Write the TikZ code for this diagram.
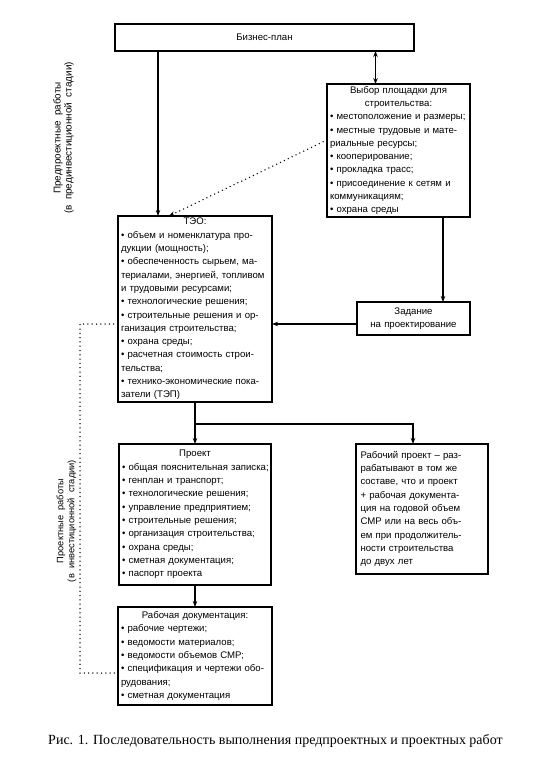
\documentclass[tikz,border=0pt]{standalone}
\usepackage{fontspec}
\setmainfont{Liberation Serif}
\newfontfamily\boxfont{Liberation Sans}
\usetikzlibrary{arrows.meta,calc}
\newcommand\Lln[1]{\hbox to\linewidth{#1\hss}\par}
\newcommand\Cln[1]{\hbox to\linewidth{\hss#1\hss}\par}
\begin{document}
\begin{tikzpicture}[x=1pt,y=-1pt,
  box/.style={draw, line width=1.1pt, anchor=north west, outer sep=0pt,
    inner xsep=3pt, inner ysep=0pt, align=left,
    font=\boxfont\fontsize{9.6}{13.3}\selectfont},
  arr/.style={line width=1.1pt, -{Stealth[length=6pt,width=4.5pt]}},
  darr/.style={line width=1.1pt, {Stealth[length=6pt,width=4.5pt]}-{Stealth[length=6pt,width=4.5pt]}},
  ln/.style={line width=1.1pt},
  dots/.style={line width=1.5pt, line cap=round, dash pattern=on 0pt off 4.3pt},
  dotarr/.style={dots, -{Stealth[length=6pt,width=4.5pt]}},
  side/.style={rotate=90, align=center, font=\boxfont\fontsize{9.3}{11}\selectfont}]
\useasboundingbox (0,0) rectangle (542,770);

% boxes
\node[box, minimum width=299pt, minimum height=27pt] (biz) at (115,24) {Бизнес-план};

\node[box, text width=137pt, minimum width=143pt, minimum height=133pt] (vybor) at (327,84) {%
\Cln{Выбор площадки для}%
\Cln{строительства:}%
\Lln{• местоположение и размеры;}%
\Lln{• местные трудовые и мате-}%
\Lln{риальные ресурсы;}%
\Lln{• кооперирование;}%
\Lln{• прокладка трасс;}%
\Lln{• присоединение к сетям и}%
\Lln{коммуникациям;}%
\Lln{• охрана среды}};

\node[box, text width=148pt, minimum width=154pt, minimum height=186pt] (teo) at (118,216) {%
\Cln{ТЭО:}%
\Lln{• объем и номенклатура про-}%
\Lln{дукции (мощность);}%
\Lln{• обеспеченность сырьем, ма-}%
\Lln{териалами, энергией, топливом}%
\Lln{и трудовыми ресурсами;}%
\Lln{• технологические решения;}%
\Lln{• строительные решения и ор-}%
\Lln{ганизация строительства;}%
\Lln{• охрана среды;}%
\Lln{• расчетная стоимость строи-}%
\Lln{тельства;}%
\Lln{• технико-экономические пока-}%
\Lln{затели (ТЭП)}};

\node[box, text width=107pt, minimum width=113pt, minimum height=33pt] (zad) at (357,302) {%
\Cln{Задание}%
\Cln{на проектирование}};

\node[box, text width=146pt, minimum width=152pt, minimum height=141pt] (proekt) at (119,444) {%
\Cln{Проект}%
\Lln{• общая пояснительная записка;}%
\Lln{• генплан и транспорт;}%
\Lln{• технологические решения;}%
\Lln{• управление предприятием;}%
\Lln{• строительные решения;}%
\Lln{• организация строительства;}%
\Lln{• охрана среды;}%
\Lln{• сметная документация;}%
\Lln{• паспорт проекта}};

\node[box, inner xsep=4.5pt, text width=123pt, minimum width=132pt, minimum height=130pt] (rabpr) at (356,444) {%
\Lln{Рабочий проект – раз-}%
\Lln{рабатывают в том же}%
\Lln{составе, что и проект}%
\Lln{+ рабочая документа-}%
\Lln{ция на годовой объем}%
\Lln{СМР или на весь объ-}%
\Lln{ем при продолжитель-}%
\Lln{ности строительства}%
\Lln{до двух лет}};

\node[box, text width=148pt, minimum width=154pt, minimum height=98pt] (rabdoc) at (118,607) {%
\Cln{Рабочая документация:}%
\Lln{• рабочие чертежи;}%
\Lln{• ведомости материалов;}%
\Lln{• ведомости объемов СМР;}%
\Lln{• спецификация и чертежи обо-}%
\Lln{рудования;}%
\Lln{• сметная документация}};

% side labels
\node[side, font=\boxfont\fontsize{9.9}{11}\selectfont] (pre) at (63.5,138) {Предпроектные \ работы\\(в \ прединвестиционной \ стадии)};
\node[side] (proj) at (66.5,521) {Проектные \ работы\\(в \ инвестиционной \ стадии)};

% caption
\node[font=\fontsize{14}{16}\selectfont, anchor=base] (cap) at (275.5,744) {Рис. 1. Последовательность выполнения предпроектных и проектных работ};

% helper coordinates
\coordinate (xa) at (158,0);
\coordinate (xb) at (375.5,0);
\coordinate (xc) at (443,0);
\coordinate (xd) at (169,0);
\coordinate (xp) at (195,0);
\coordinate (xr) at (413,0);
\coordinate (xv) at (80,0);
\coordinate (yv) at (0,140);
\coordinate (yz) at (0,324);
\coordinate (yb) at (0,424);
\coordinate (yh) at (0,673);

% connectors
\draw[arr] (biz.south -| xa) -- (teo.north -| xa);
\draw[darr] (biz.south -| xb) -- (vybor.north -| xb);
\draw[dotarr] (vybor.west |- yv) -- (teo.north -| xd);
\draw[arr] (vybor.south -| xc) -- (zad.north -| xc);
\draw[arr] (zad.west |- yz) -- (teo.east |- yz);
\draw[arr] (teo.south -| xp) -- (proekt.north -| xp);
\draw[arr] (xp |- yb) -| (rabpr.north -| xr);
\draw[arr] (proekt.south -| xp) -- (rabdoc.north -| xp);
\draw[dots] (teo.west |- yz) -- (xv |- yz) -- (xv |- yh) -- (rabdoc.west |- yh);
\end{tikzpicture}
\end{document}
